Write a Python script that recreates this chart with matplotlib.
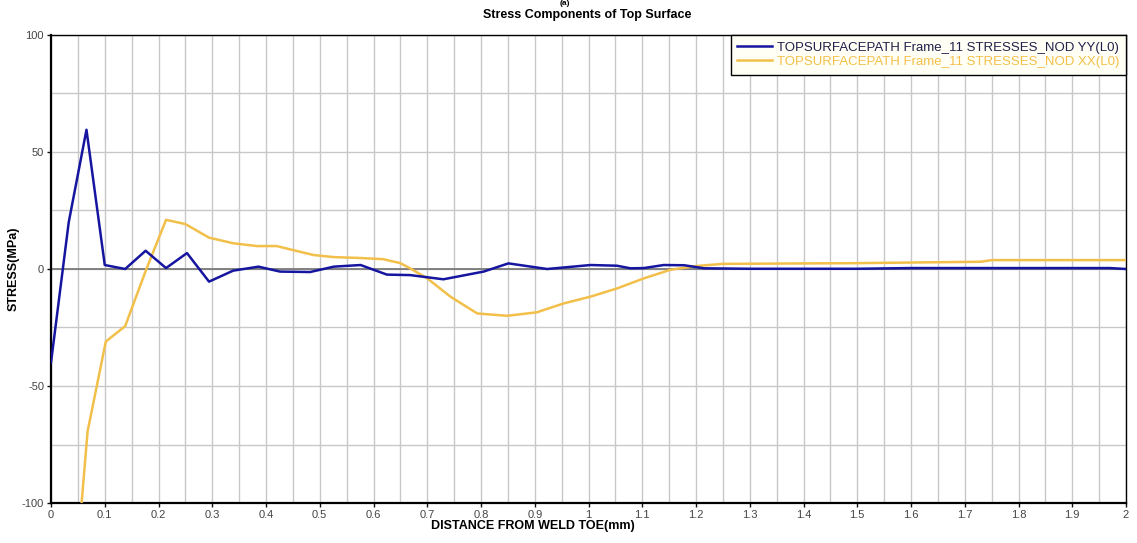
import matplotlib
matplotlib.use("Agg")
import matplotlib.pyplot as plt
import numpy as np
from matplotlib.ticker import MultipleLocator

# ---- data ----
yy_x = [0, 0.033, 0.066, 0.1, 0.138, 0.176, 0.214, 0.253, 0.294, 0.339, 0.386, 0.426,
        0.482, 0.526, 0.576, 0.625, 0.668, 0.73, 0.805, 0.851, 0.923, 1.004, 1.053,
        1.078, 1.103, 1.14, 1.178, 1.215, 1.3, 1.5, 1.6, 1.97, 2.0]
yy_y = [-40, 20, 59.5, 1.7, 0, 7.8, 0.4, 6.8, -5.4, -0.7, 1, -1.1,
        -1.3, 1, 1.7, -2.4, -2.6, -4.4, -1.1, 2.4, 0, 1.7, 1.4,
        0.3, 0.4, 1.7, 1.6, 0.3, 0.1, 0.1, 0.4, 0.4, 0]

xx_x = [0.033, 0.068, 0.102, 0.138, 0.178, 0.214, 0.25, 0.294, 0.339, 0.383, 0.42, 0.45,
        0.488, 0.525, 0.575, 0.618, 0.65, 0.668, 0.70, 0.743, 0.793, 0.849, 0.904,
        0.954, 1.004, 1.053, 1.103, 1.153, 1.202, 1.25, 1.5, 1.73, 1.75, 2.0]
xx_y = [-166, -69.5, -31, -24.4, 0.3, 21, 19.2, 13.4, 11, 9.8, 9.8, 8.1,
        6, 5.1, 4.7, 4.2, 2.5, 0.3, -4, -11.8, -19, -20, -18.5,
        -14.7, -11.8, -8.3, -4, -0.3, 1.3, 2.2, 2.5, 3.1, 3.8, 3.8]

label_yy = "TOPSURFACEPATH Frame_11 STRESSES_NOD YY(L0)"
label_xx = "TOPSURFACEPATH Frame_11 STRESSES_NOD XX(L0)"
title = "Stress Components of Top Surface"
xlabel = "DISTANCE FROM WELD TOE(mm)"
ylabel = "STRESS(MPa)"

plt.rcParams['font.family'] = ['Liberation Sans', 'DejaVu Sans']
plt.rcParams['axes.unicode_minus'] = False

fig = plt.figure(figsize=(11.37, 5.43), dpi=100)
ax = fig.add_axes([51/1137, 1-503/543, 1075/1137, 468/543])

ax.set_xlim(0, 2)
ax.set_ylim(-100, 100)
ax.xaxis.set_major_locator(MultipleLocator(0.1))
ax.xaxis.set_minor_locator(MultipleLocator(0.05))
ax.yaxis.set_major_locator(MultipleLocator(50))
ax.yaxis.set_minor_locator(MultipleLocator(25))
ax.grid(which='both', color='#c8c8c8', lw=1.0)
ax.set_axisbelow(True)
ax.axhline(0, color='#7a7a7a', lw=1.3, zorder=1.5)

blue = '#1515a0'
yellow = '#f2c04a'
ax.plot(xx_x, xx_y, color=yellow, lw=1.8, label=label_xx, zorder=3)
ax.plot(yy_x, yy_y, color=blue, lw=1.8, label=label_yy, zorder=4)

xt = np.round(np.arange(0, 2.01, 0.1), 1)
ax.set_xticks(xt)
ax.set_xticklabels([("%g" % v) for v in xt])
ax.tick_params(which='major', length=3, width=1, labelsize=8, colors='#111111',
               labelcolor='#444444', pad=2)
ax.tick_params(which='minor', length=0)
for s in ax.spines.values():
    s.set_color('black')
ax.spines['left'].set_linewidth(1.6)
ax.spines['bottom'].set_linewidth(1.6)
ax.spines['top'].set_linewidth(1.0)
ax.spines['right'].set_linewidth(1.0)

handles, labels = ax.get_legend_handles_labels()
leg = ax.legend(handles[::-1], labels[::-1], loc='upper right', bbox_to_anchor=(1, 1),
                borderaxespad=0, fontsize=9.5, frameon=True, fancybox=False,
                edgecolor='black', handlelength=2.6, handletextpad=0.4,
                labelspacing=0.15, borderpad=0.5)
leg.get_frame().set_linewidth(1.0)
leg.get_frame().set_facecolor('#fffff6')
leg.get_frame().set_alpha(1)
leg.get_texts()[0].set_color('#20204a')
leg.get_texts()[1].set_color('#f2c04a')

fig.text(587/1137, 1-15/543, title, ha='center', va='center', fontsize=9, fontweight='bold')
fig.text(565/1137, 1.0, "(a)", ha='center', va='top', fontsize=6, fontweight='bold')
fig.text(533/1137, 1-526/543, xlabel, ha='center', va='center', fontsize=9,
         fontweight='bold', family=['Liberation Sans Narrow', 'Liberation Sans', 'DejaVu Sans'])
fig.text(14/1137, 1-269/543, ylabel, ha='center', va='center', fontsize=9,
         fontweight='bold', rotation=90)

fig.savefig("out.png", dpi=100)
